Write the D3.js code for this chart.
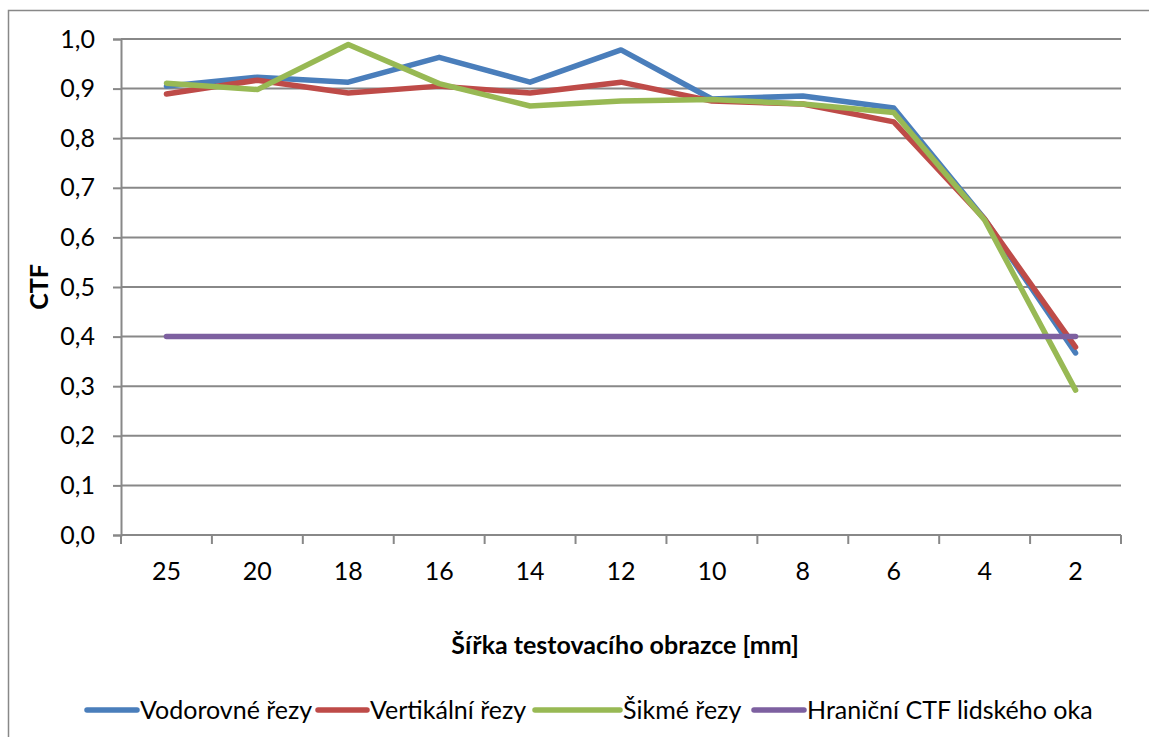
<!DOCTYPE html>
<html>
<head>
<meta charset="utf-8">
<script src="https://cdn.jsdelivr.net/npm/d3@7"></script>
<style>
  body { margin: 0; background: #fff; }
  text { font-family: Lato, "Open Sans", sans-serif; fill: #000; }
</style>
</head>
<body>
<div id="chart"></div>
<script>
// data
let widths = ['25', '20', '18', '16', '14', '12', '10', '8', '6', '4', '2']
let vodorovne = [0.905, 0.923, 0.913, 0.963, 0.913, 0.978, 0.879, 0.885, 0.861, 0.637, 0.367]
let vertikalni = [0.889, 0.917, 0.891, 0.905, 0.891, 0.913, 0.875, 0.869, 0.833, 0.637, 0.379]
let sikme = [0.911, 0.898, 0.989, 0.910, 0.865, 0.875, 0.878, 0.869, 0.852, 0.635, 0.292]
let hranicni = [0.4, 0.4, 0.4, 0.4, 0.4, 0.4, 0.4, 0.4, 0.4, 0.4, 0.4]
let yTicks = [0, 0.1, 0.2, 0.3, 0.4, 0.5, 0.6, 0.7, 0.8, 0.9, 1.0]

let series = [
  { name: 'Vodorovné řezy', color: '#4a7ebb', values: vodorovne },
  { name: 'Vertikální řezy', color: '#be4b48', values: vertikalni },
  { name: 'Šikmé řezy', color: '#98b954', values: sikme },
  { name: 'Hraniční CTF lidského oka', color: '#7d60a0', values: hranicni }
]

let margin = { top: 39, left: 121, right: 28, bottom: 202 }
let W = 1149
let H = 737
let width = W - margin.left - margin.right
let height = H - margin.top - margin.bottom
let fontSize = 25

let svg = d3.select('#chart')
  .append('svg')
  .attr('width', W)
  .attr('height', H)

// outer chart frame
svg.append('rect')
  .attr('x', 8.5)
  .attr('y', 10.5)
  .attr('width', W + 20)
  .attr('height', H + 20)
  .attr('fill', 'none')
  .attr('stroke', '#888')
  .attr('stroke-width', 1.5)

let g = svg.append('g')
  .attr('transform', `translate(${margin.left},${margin.top})`)

let xBand = d3.scaleBand().domain(widths).range([0, width])
let yScale = d3.scaleLinear().domain([0, 1]).range([height, 0])

// gridlines
g.append('g')
  .selectAll('line')
  .data(yTicks.slice(1))
  .enter()
  .append('line')
  .attr('x1', 0)
  .attr('x2', width)
  .attr('y1', d => yScale(d))
  .attr('y2', d => yScale(d))
  .attr('stroke', '#888')
  .attr('stroke-width', 2)

// y axis
let yAxis = d3.axisLeft(yScale)
  .tickValues(yTicks)
  .tickSize(8)
  .tickPadding(18)
  .tickFormat(d => d3.format('.1f')(d).replace('.', ','))
let yG = g.append('g').call(yAxis)
yG.select('.domain').attr('stroke', '#888').attr('stroke-width', 2)
yG.selectAll('.tick line').attr('stroke', '#888').attr('stroke-width', 2)
yG.selectAll('.tick text')
  .attr('font-size', fontSize)
  .style('font-family', 'Lato, sans-serif')
  .attr('fill', '#000')

// x axis: ticks sit on band boundaries
let xG = g.append('g').attr('transform', `translate(0,${height})`)
xG.append('line')
  .attr('x1', 0).attr('x2', width)
  .attr('stroke', '#888').attr('stroke-width', 2)
xG.selectAll('.xt')
  .data(widths.map(d => xBand(d)).concat([width]))
  .enter()
  .append('line')
  .attr('x1', d => d).attr('x2', d => d)
  .attr('y1', 0).attr('y2', 9)
  .attr('stroke', '#888').attr('stroke-width', 2)
xG.selectAll('.xl')
  .data(widths)
  .enter()
  .append('text')
  .attr('x', d => xBand(d) + xBand.bandwidth() / 2)
  .attr('y', 45)
  .attr('text-anchor', 'middle')
  .attr('font-size', fontSize)
  .text(d => d)

// lines
let line = d3.line()
  .x((d, i) => xBand(widths[i]) + xBand.bandwidth() / 2)
  .y(d => yScale(d))

g.selectAll('.series')
  .data(series)
  .enter()
  .append('path')
  .attr('d', d => line(d.values))
  .attr('fill', 'none')
  .attr('stroke', d => d.color)
  .attr('stroke-width', 5.5)
  .attr('stroke-linejoin', 'round')
  .attr('stroke-linecap', 'round')

// axis titles
svg.append('text')
  .attr('transform', 'translate(48,287) rotate(-90)')
  .attr('text-anchor', 'middle')
  .attr('font-size', fontSize)
  .attr('font-weight', 'bold')
  .text('CTF')

svg.append('text')
  .attr('x', 625)
  .attr('y', 654)
  .attr('text-anchor', 'middle')
  .attr('font-size', fontSize)
  .attr('font-weight', 'bold')
  .text('Šířka testovacího obrazce [mm]')

// legend
let legendStart = [87, 318, 535, 754]
let legendEnd = [137, 367, 620, 804]
let legend = svg.selectAll('.legend')
  .data(series)
  .enter()
  .append('g')
legend.append('line')
  .attr('x1', (d, i) => legendStart[i])
  .attr('x2', (d, i) => legendEnd[i])
  .attr('y1', 710).attr('y2', 710)
  .attr('stroke', d => d.color)
  .attr('stroke-width', 5.5)
  .attr('stroke-linecap', 'round')
legend.append('text')
  .attr('x', (d, i) => legendEnd[i] + 3)
  .attr('y', 719)
  .attr('font-size', fontSize)
  .text(d => d.name)
</script>
</body>
</html>
